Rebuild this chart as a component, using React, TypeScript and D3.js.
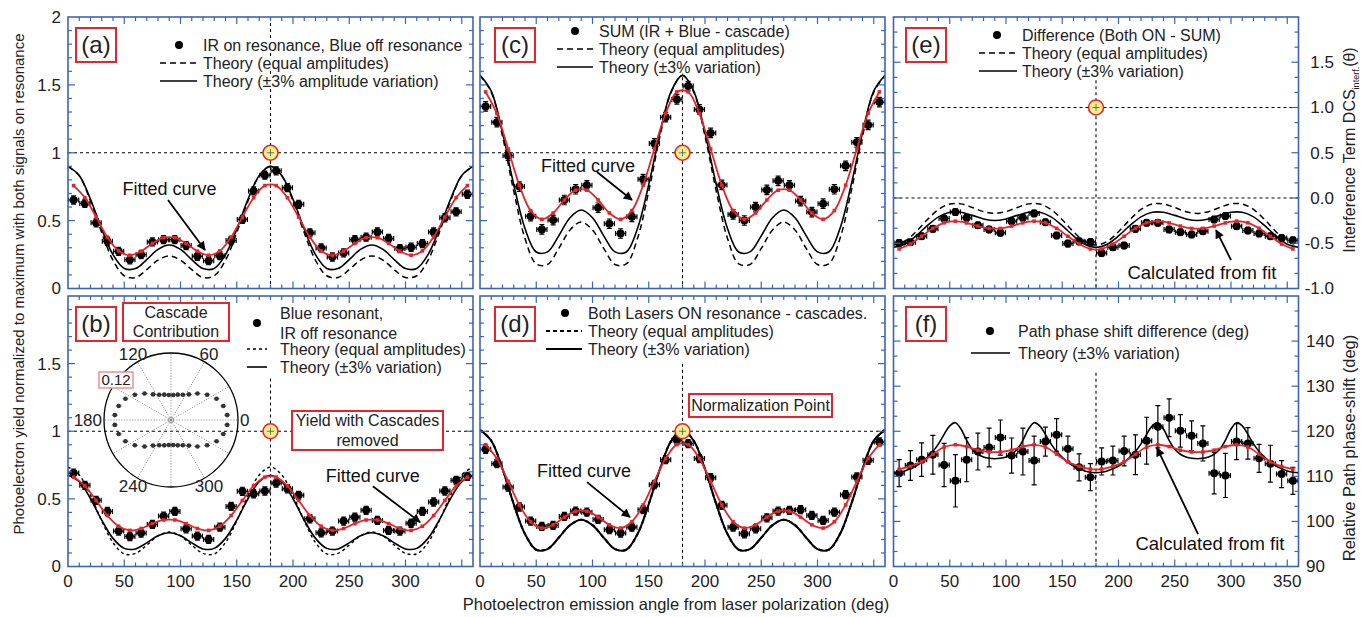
import React from "react";
import * as d3 from "d3";

const FONT = "'Liberation Sans', Arial, Helvetica, sans-serif";
const FRAME = "#3c64b4";
const RED = "#e3262b";
const YELLOW = "#f4ee8c";

// ---------- shared angle grids ----------
const DATA_ANGLES = [5, 15, 25, 35, 45, 55, 65, 75, 85, 95, 105, 115, 125, 135, 145, 155, 165, 175, 185, 195, 205, 215, 225, 235, 245, 255, 265, 275, 285, 295, 305, 315, 325, 335, 345, 355];
const GRID10 = [0, 10, 20, 30, 40, 50, 60, 70, 80, 90, 100, 110, 120, 130, 140, 150, 160, 170, 180, 190, 200, 210, 220, 230, 240, 250, 260, 270, 280, 290, 300, 310, 320, 330, 340, 350, 360];
const GRID5 = [0, 5, 10, 15, 20, 25, 30, 35, 40, 45, 50, 55, 60, 65, 70, 75, 80, 85, 90, 95, 100, 105, 110, 115, 120, 125, 130, 135, 140, 145, 150, 155, 160, 165, 170, 175, 180, 185, 190, 195, 200, 205, 210, 215, 220, 225, 230, 235, 240, 245, 250, 255, 260, 265, 270, 275, 280, 285, 290, 295, 300, 305, 310, 315, 320, 325, 330, 335, 340, 345, 350, 355, 360];

// ---------- panel (a) ----------
const A_DATA = [0.652, 0.627, 0.484, 0.348, 0.274, 0.212, 0.249, 0.343, 0.36, 0.36, 0.316, 0.237, 0.205, 0.242, 0.353, 0.509, 0.719, 0.835, 0.867, 0.743, 0.62, 0.41, 0.299, 0.232, 0.262, 0.36, 0.378, 0.417, 0.368, 0.294, 0.304, 0.331, 0.417, 0.521, 0.565, 0.694];
const A_THEORY_EQ = [0.900, 0.830, 0.644, 0.411, 0.208, 0.094, 0.081, 0.139, 0.209, 0.240, 0.209, 0.139, 0.081, 0.094, 0.208, 0.411, 0.644, 0.830, 0.900, 0.830, 0.644, 0.411, 0.208, 0.094, 0.081, 0.139, 0.209, 0.240, 0.209, 0.139, 0.081, 0.094, 0.208, 0.411, 0.644, 0.830, 0.900];
const A_THEORY_3 = [0.900, 0.833, 0.657, 0.437, 0.249, 0.148, 0.147, 0.213, 0.288, 0.320, 0.288, 0.213, 0.147, 0.148, 0.249, 0.437, 0.657, 0.833, 0.900, 0.833, 0.657, 0.437, 0.249, 0.148, 0.147, 0.213, 0.288, 0.320, 0.288, 0.213, 0.147, 0.148, 0.249, 0.437, 0.657, 0.833, 0.900];
const A_FIT = [0.758, 0.669, 0.526, 0.379, 0.277, 0.245, 0.275, 0.332, 0.374, 0.374, 0.332, 0.275, 0.245, 0.277, 0.379, 0.526, 0.669, 0.758, 0.758, 0.669, 0.526, 0.379, 0.277, 0.245, 0.275, 0.332, 0.374, 0.374, 0.332, 0.275, 0.245, 0.277, 0.379, 0.526, 0.669, 0.758];

// ---------- panel (b) ----------
const B_DATA = [0.691, 0.6, 0.489, 0.407, 0.262, 0.222, 0.247, 0.311, 0.373, 0.407, 0.279, 0.225, 0.2, 0.291, 0.444, 0.556, 0.538, 0.558, 0.617, 0.575, 0.526, 0.353, 0.249, 0.262, 0.336, 0.365, 0.415, 0.341, 0.267, 0.262, 0.32, 0.407, 0.477, 0.558, 0.637, 0.667];
const B_THEORY_EQ = [0.735, 0.677, 0.526, 0.337, 0.177, 0.093, 0.097, 0.158, 0.226, 0.255, 0.226, 0.158, 0.097, 0.093, 0.177, 0.337, 0.526, 0.677, 0.735, 0.677, 0.526, 0.337, 0.177, 0.093, 0.097, 0.158, 0.226, 0.255, 0.226, 0.158, 0.097, 0.093, 0.177, 0.337, 0.526, 0.677, 0.735];
const B_THEORY_3 = [0.675, 0.627, 0.501, 0.343, 0.208, 0.134, 0.130, 0.175, 0.228, 0.250, 0.228, 0.175, 0.130, 0.134, 0.208, 0.343, 0.501, 0.627, 0.675, 0.627, 0.501, 0.343, 0.208, 0.134, 0.130, 0.175, 0.228, 0.250, 0.228, 0.175, 0.130, 0.134, 0.208, 0.343, 0.501, 0.627, 0.675];
const B_FIT = [0.661, 0.596, 0.488, 0.377, 0.298, 0.267, 0.281, 0.317, 0.344, 0.344, 0.317, 0.281, 0.267, 0.298, 0.377, 0.488, 0.596, 0.661, 0.661, 0.596, 0.488, 0.377, 0.298, 0.267, 0.281, 0.317, 0.344, 0.344, 0.317, 0.281, 0.267, 0.298, 0.377, 0.488, 0.596, 0.661];

// ---------- panel (c) ----------
const C_DATA = [1.341, 1.225, 0.978, 0.751, 0.533, 0.435, 0.504, 0.652, 0.731, 0.760, 0.595, 0.477, 0.405, 0.528, 0.805, 1.069, 1.262, 1.393, 1.491, 1.319, 1.146, 0.763, 0.546, 0.501, 0.6, 0.726, 0.793, 0.76, 0.644, 0.563, 0.625, 0.731, 0.904, 1.077, 1.205, 1.373];
const C_THEORY_EQ = [1.570, 1.447, 1.122, 0.717, 0.369, 0.181, 0.177, 0.295, 0.431, 0.490, 0.431, 0.295, 0.177, 0.181, 0.369, 0.717, 1.122, 1.447, 1.570, 1.447, 1.122, 0.717, 0.369, 0.181, 0.177, 0.295, 0.431, 0.490, 0.431, 0.295, 0.177, 0.181, 0.369, 0.717, 1.122, 1.447, 1.570];
const C_THEORY_3 = [1.570, 1.454, 1.148, 0.766, 0.442, 0.269, 0.270, 0.388, 0.521, 0.578, 0.521, 0.388, 0.270, 0.269, 0.442, 0.766, 1.148, 1.454, 1.570, 1.454, 1.148, 0.766, 0.442, 0.269, 0.270, 0.388, 0.521, 0.578, 0.521, 0.388, 0.270, 0.269, 0.442, 0.766, 1.148, 1.454, 1.570];
const C_FIT = [1.448, 1.289, 1.028, 0.761, 0.574, 0.510, 0.556, 0.652, 0.724, 0.724, 0.652, 0.556, 0.510, 0.574, 0.761, 1.028, 1.289, 1.448, 1.448, 1.289, 1.028, 0.761, 0.574, 0.510, 0.556, 0.652, 0.724, 0.724, 0.652, 0.556, 0.510, 0.574, 0.761, 1.028, 1.289, 1.448];

// ---------- panel (d) ----------
const D_DATA = [0.867, 0.76, 0.588, 0.44, 0.336, 0.296, 0.304, 0.37, 0.41, 0.402, 0.348, 0.272, 0.247, 0.291, 0.42, 0.605, 0.79, 0.933, 0.909, 0.798, 0.657, 0.452, 0.291, 0.242, 0.279, 0.36, 0.41, 0.415, 0.42, 0.378, 0.341, 0.402, 0.531, 0.662, 0.785, 0.921];
const D_THEORY_EQ = [1.010, 0.930, 0.721, 0.461, 0.240, 0.124, 0.129, 0.213, 0.306, 0.346, 0.306, 0.213, 0.129, 0.124, 0.240, 0.461, 0.721, 0.930, 1.010, 0.930, 0.721, 0.461, 0.240, 0.124, 0.129, 0.213, 0.306, 0.346, 0.306, 0.213, 0.129, 0.124, 0.240, 0.461, 0.721, 0.930, 1.010];
const D_THEORY_3 = [1.010, 0.930, 0.721, 0.461, 0.240, 0.124, 0.129, 0.213, 0.306, 0.346, 0.306, 0.213, 0.129, 0.124, 0.240, 0.461, 0.721, 0.930, 1.010, 0.930, 0.721, 0.461, 0.240, 0.124, 0.129, 0.213, 0.306, 0.346, 0.306, 0.213, 0.129, 0.124, 0.240, 0.461, 0.721, 0.930, 1.010];
const D_FIT = [0.901, 0.798, 0.630, 0.455, 0.331, 0.284, 0.308, 0.365, 0.409, 0.409, 0.365, 0.308, 0.284, 0.331, 0.455, 0.630, 0.798, 0.901, 0.901, 0.798, 0.630, 0.455, 0.331, 0.284, 0.308, 0.365, 0.409, 0.409, 0.365, 0.308, 0.284, 0.331, 0.455, 0.630, 0.798, 0.901];

// ---------- panel (e) ----------
const E_DATA = [-0.496, -0.489, -0.422, -0.341, -0.226, -0.156, -0.219, -0.3, -0.348, -0.385, -0.256, -0.219, -0.17, -0.267, -0.415, -0.504, -0.478, -0.485, -0.607, -0.544, -0.526, -0.341, -0.274, -0.274, -0.348, -0.378, -0.404, -0.367, -0.237, -0.2, -0.311, -0.359, -0.393, -0.422, -0.441, -0.467];
const E_THEORY_EQ = [-0.520, -0.480, -0.373, -0.240, -0.127, -0.066, -0.065, -0.105, -0.151, -0.170, -0.151, -0.105, -0.065, -0.066, -0.127, -0.240, -0.373, -0.480, -0.520, -0.480, -0.373, -0.240, -0.127, -0.066, -0.065, -0.105, -0.151, -0.170, -0.151, -0.105, -0.065, -0.066, -0.127, -0.240, -0.373, -0.480, -0.520];
const E_THEORY_3 = [-0.544, -0.510, -0.419, -0.306, -0.209, -0.158, -0.158, -0.192, -0.231, -0.248, -0.231, -0.192, -0.158, -0.158, -0.209, -0.306, -0.419, -0.510, -0.544, -0.510, -0.419, -0.306, -0.209, -0.158, -0.158, -0.192, -0.231, -0.248, -0.231, -0.192, -0.158, -0.158, -0.209, -0.306, -0.419, -0.510, -0.544];
const E_FIT = [-0.563, -0.509, -0.423, -0.335, -0.274, -0.256, -0.275, -0.310, -0.336, -0.336, -0.310, -0.275, -0.256, -0.274, -0.335, -0.423, -0.509, -0.563, -0.563, -0.509, -0.423, -0.335, -0.274, -0.256, -0.275, -0.310, -0.336, -0.336, -0.310, -0.275, -0.256, -0.274, -0.335, -0.423, -0.509, -0.563];

// ---------- panel (f) ----------
const F_DATA = [110.7, 112.4, 113.7, 114.8, 112.5, 109.0, 113.7, 115.5, 116.4, 118.6, 114.6, 115.5, 113.5, 117.7, 119.2, 116.1, 112.0, 109.8, 113.3, 113.5, 115.6, 114.8, 117.9, 121.0, 123.0, 120.1, 119.0, 117.3, 110.7, 110.2, 117.7, 117.3, 114.0, 112.8, 110.5, 109.0];
const F_ERR = [3.0, 3.3, 3.7, 4.3, 4.8, 5.8, 4.9, 4.1, 4.3, 3.9, 3.9, 5.2, 5.4, 3.2, 3.6, 2.8, 3.0, 3.0, 3.0, 3.2, 3.3, 4.4, 5.2, 4.7, 4.2, 3.6, 3.3, 3.9, 4.6, 4.9, 4.0, 3.5, 3.1, 4.1, 3.0, 3.0];
const F_THEORY_3 = [110.8, 110.9, 111.2, 111.7, 112.3, 113.1, 114.2, 115.5, 117.2, 119.3, 121.2, 121.9, 120.5, 118.0, 116.0, 114.9, 114.3, 114.0, 113.9,
  114.0, 114.3, 114.9, 116.0, 118.0, 120.5, 121.9, 121.2, 119.3, 117.2, 115.5, 114.2, 113.1, 112.3, 111.7, 111.2, 110.9, 110.8,
  110.9, 111.2, 111.7, 112.3, 113.1, 114.2, 115.5, 117.2, 119.3, 121.2, 121.9, 120.5, 118.0, 116.0, 114.9, 114.3, 114.0, 113.9,
  114.0, 114.3, 114.9, 116.0, 118.0, 120.5, 121.9, 121.2, 119.3, 117.2, 115.5, 114.2, 113.1, 112.3, 111.7, 111.2, 110.9, 110.8];
const F_FIT = [111.6, 112.2, 113.2, 114.9, 116.5, 117.0, 116.6, 115.8, 115.4, 115.4, 115.8, 116.6, 117.0, 116.5, 114.9, 113.2, 112.2, 111.6, 111.6, 112.2, 113.2, 114.9, 116.5, 117.0, 116.6, 115.8, 115.4, 115.4, 115.8, 116.6, 117.0, 116.5, 114.9, 113.2, 112.2, 111.6];

// ---------- polar inset (cascade contribution) ----------
const POLAR_R = [0.101, 0.097, 0.090, 0.079, 0.067, 0.056, 0.050, 0.047, 0.045, 0.045, 0.047, 0.050, 0.056, 0.067, 0.079, 0.090, 0.097, 0.101, 0.101, 0.097, 0.090, 0.079, 0.067, 0.056, 0.050, 0.047, 0.045, 0.045, 0.047, 0.050, 0.056, 0.067, 0.079, 0.090, 0.097, 0.101];
const POLAR_SPOKES = [0, 30, 60, 90, 120, 150, 180, 210, 240, 270, 300, 330];
const POLAR_LABELS = [0, 60, 120, 180, 240, 300];

// ---------- tick labels ----------
const Y_TICKS_TOP = [0, 0.5, 1, 1.5, 2];
const Y_LABELS_TOP = ["0", "0.5", "1", "1.5", "2"];
const Y_TICKS_BOT = [0, 0.5, 1, 1.5];
const Y_LABELS_BOT = ["0", "0.5", "1", "1.5"];
const E_TICKS = [-1, -0.5, 0, 0.5, 1, 1.5];
const E_LABELS = ["-1.0", "-0.5", "0.0", "0.5", "1.0", "1.5"];
const F_TICKS = [90, 100, 110, 120, 130, 140];
const F_LABELS = ["90", "100", "110", "120", "130", "140"];
const X_TICKS_BD = [0, 50, 100, 150, 200, 250, 300];
const X_TICKS_F = [0, 50, 100, 150, 200, 250, 300, 350];

type Row = { kind: "dot" | "dash" | "solid" | "text"; y: number; label?: string };
type Legend = { dotX: number; lx1: number; lx2: number; tx: number; rows: Row[] };
type Annot = { text: string; size: number; tx: number; ty: number; from: [number, number]; to: [number, number] };
type TickSet = { values: number[]; labels: string[] };
type PanelCfg = {
  id: string; x0: number; x1: number; y0: number; y1: number;
  yDomain: [number, number]; yMajor: number; ySub: number;
  data: number[]; yErr: number | number[];
  theoryGrid: number[]; theoryEq?: number[]; theory3: number[];
  fit: number[];
  hLines: number[]; vTop: number; norm: boolean;
  dash: string; dashW: number; lw: number;
  label: string; labelX: number; labelY: number;
  legend: Legend;
  left?: TickSet; right?: TickSet & { anchor: "start" | "end"; x: number }; bottom?: TickSet;
  annot: Annot;
};

const PANELS: PanelCfg[] = [
  {
    id: "a", x0: 68, x1: 473, y0: 17, y1: 288.5, yDomain: [0, 2], yMajor: 0.5, ySub: 5,
    data: A_DATA, yErr: 0.03, theoryGrid: GRID10, theoryEq: A_THEORY_EQ, theory3: A_THEORY_3, fit: A_FIT,
    hLines: [1], vTop: 2, norm: true, dash: "6,4", dashW: 1.5, lw: 1.6,
    label: "(a)", labelX: 76, labelY: 28,
    legend: { dotX: 179, lx1: 160, lx2: 197, tx: 203, rows: [
      { kind: "dot", y: 45, label: "IR on resonance, Blue off resonance" },
      { kind: "dash", y: 63, label: "Theory (equal amplitudes)" },
      { kind: "solid", y: 81, label: "Theory (\u00b13% amplitude variation)" }] },
    left: { values: Y_TICKS_TOP, labels: Y_LABELS_TOP },
    annot: { text: "Fitted curve", size: 18, tx: 90.2, ty: 0.733, from: [88.9, 0.652], to: [121.8, 0.284] },
  },
  {
    id: "b", x0: 68, x1: 473, y0: 296, y1: 566.5, yDomain: [0, 2], yMajor: 0.5, ySub: 5,
    data: B_DATA, yErr: 0.03, theoryGrid: GRID10, theoryEq: B_THEORY_EQ, theory3: B_THEORY_3, fit: B_FIT,
    hLines: [1], vTop: 1.39, norm: true, dash: "3,3", dashW: 1.4, lw: 1.6,
    label: "(b)", labelX: 76, labelY: 307,
    legend: { dotX: 257, lx1: 247, lx2: 267, tx: 280, rows: [
      { kind: "dot", y: 323 },
      { kind: "text", y: 313, label: "Blue resonant," },
      { kind: "text", y: 333, label: "IR off resonance" },
      { kind: "dash", y: 349, label: "Theory (equal amplitudes)" },
      { kind: "solid", y: 367, label: "Theory (\u00b13% variation)" }] },
    left: { values: Y_TICKS_BOT, labels: Y_LABELS_BOT },
    bottom: { values: X_TICKS_BD, labels: X_TICKS_BD.map(String) },
    annot: { text: "Fitted curve", size: 18, tx: 271, ty: 0.668, from: [271, 0.594], to: [312.9, 0.328] },
  },
  {
    id: "c", x0: 480, x1: 885, y0: 17, y1: 288.5, yDomain: [0, 2], yMajor: 0.5, ySub: 5,
    data: C_DATA, yErr: 0.035, theoryGrid: GRID10, theoryEq: C_THEORY_EQ, theory3: C_THEORY_3, fit: C_FIT,
    hLines: [1], vTop: 1.6, norm: true, dash: "6,4", dashW: 1.5, lw: 1.6,
    label: "(c)", labelX: 495, labelY: 28,
    legend: { dotX: 575, lx1: 557, lx2: 593, tx: 599, rows: [
      { kind: "dot", y: 31, label: "SUM (IR + Blue - cascade)" },
      { kind: "dash", y: 49, label: "Theory (equal amplitudes)" },
      { kind: "solid", y: 67, label: "Theory (\u00b13% variation)" }] },
    annot: { text: "Fitted curve", size: 18, tx: 96, ty: 0.902, from: [104, 0.858], to: [135.1, 0.652] },
  },
  {
    id: "d", x0: 480, x1: 885, y0: 296, y1: 566.5, yDomain: [0, 2], yMajor: 0.5, ySub: 5,
    data: D_DATA, yErr: 0.03, theoryGrid: GRID10, theoryEq: D_THEORY_EQ, theory3: D_THEORY_3, fit: D_FIT,
    hLines: [1], vTop: 1.5, norm: true, dash: "4,3", dashW: 2, lw: 2,
    label: "(d)", labelX: 495, labelY: 307,
    legend: { dotX: 565, lx1: 546, lx2: 582, tx: 588, rows: [
      { kind: "dot", y: 313, label: "Both Lasers ON resonance - cascades." },
      { kind: "dash", y: 331, label: "Theory (equal amplitudes)" },
      { kind: "solid", y: 349, label: "Theory (\u00b13% variation)" }] },
    bottom: { values: X_TICKS_BD, labels: X_TICKS_BD.map(String) },
    annot: { text: "Fitted curve", size: 18, tx: 92.4, ty: 0.705, from: [95.1, 0.624], to: [133.3, 0.365] },
  },
  {
    id: "e", x0: 893.5, x1: 1298.5, y0: 17, y1: 288.5, yDomain: [-1, 2], yMajor: 0.5, ySub: 3,
    data: E_DATA, yErr: 0.035, theoryGrid: GRID10, theoryEq: E_THEORY_EQ, theory3: E_THEORY_3, fit: E_FIT,
    hLines: [1, 0], vTop: 1.3, norm: true, dash: "6,4", dashW: 1.5, lw: 1.6,
    label: "(e)", labelX: 906, labelY: 28,
    legend: { dotX: 997, lx1: 979, lx2: 1017, tx: 1022, rows: [
      { kind: "dot", y: 35, label: "Difference (Both ON - SUM)" },
      { kind: "dash", y: 53, label: "Theory (equal amplitudes)" },
      { kind: "solid", y: 71, label: "Theory (\u00b13% variation)" }] },
    right: { values: E_TICKS, labels: E_LABELS, anchor: "end", x: 1334 },
    annot: { text: "Calculated from fit", size: 18.5, tx: 274.2, ty: -0.829, from: [300, -0.685], to: [286.7, -0.354] },
  },
  {
    id: "f", x0: 893.5, x1: 1298.5, y0: 296, y1: 566.5, yDomain: [90, 150], yMajor: 10, ySub: 3,
    data: F_DATA, yErr: F_ERR, theoryGrid: GRID5, theory3: F_THEORY_3, fit: F_FIT,
    hLines: [], vTop: 133, norm: false, dash: "6,4", dashW: 1.5, lw: 1.6,
    label: "(f)", labelX: 906, labelY: 307,
    legend: { dotX: 990, lx1: 971, lx2: 1010, tx: 1018, rows: [
      { kind: "dot", y: 331, label: "Path phase shift difference (deg)" },
      { kind: "solid", y: 353, label: "Theory (\u00b13% variation)" }] },
    right: { values: F_TICKS, labels: F_LABELS, anchor: "start", x: 1306 },
    bottom: { values: X_TICKS_F, labels: X_TICKS_F.map(String) },
    annot: { text: "Calculated from fit", size: 18.5, tx: 281.3, ty: 95.2, from: [270.7, 97.2], to: [234.2, 116.3] },
  },
];

const X_ERR = 4.5;

function Panel({ c }: { c: PanelCfg }) {
  const xs = d3.scaleLinear().domain([0, 360]).range([c.x0, c.x1]);
  const ys = d3.scaleLinear().domain(c.yDomain).range([c.y1, c.y0]);
  const line = d3.line<[number, number]>().x((d) => xs(d[0])).y((d) => ys(d[1])).curve(d3.curveCatmullRom.alpha(0.5));
  const pts = (grid: number[], vals: number[]) => grid.map((g, i) => [g, vals[i]] as [number, number]);
  const err = (i: number) => (typeof c.yErr === "number" ? c.yErr : c.yErr[i]);
  const xTicks = d3.range(10, 360, 10);
  const yStep = c.yMajor / c.ySub;
  const nY = Math.round((c.yDomain[1] - c.yDomain[0]) / yStep);
  const yTicks = d3.range(1, nY).map((k) => c.yDomain[0] + k * yStep);
  const isMajorY = (v: number) => Math.abs(v / c.yMajor - Math.round(v / c.yMajor)) < 1e-6;
  const clipId = `clip-${c.id}`;
  const lg = c.legend;
  const halo = { stroke: "#fff", strokeWidth: 4, paintOrder: "stroke" as const, strokeLinejoin: "round" as const };
  return (
    <g>
      <defs>
        <clipPath id={clipId}>
          <rect x={c.x0} y={c.y0} width={c.x1 - c.x0} height={c.y1 - c.y0} />
        </clipPath>
      </defs>
      <g clipPath={`url(#${clipId})`}>
        {c.hLines.map((h) => (
          <line key={h} x1={c.x0} x2={c.x1} y1={ys(h)} y2={ys(h)} stroke="#000" strokeWidth={1.1} strokeDasharray="3,3" />
        ))}
        <line x1={xs(180)} x2={xs(180)} y1={ys(c.vTop)} y2={c.y1} stroke="#000" strokeWidth={1.1} strokeDasharray="3,3" />
        {c.theoryEq && (
          <path d={line(pts(c.theoryGrid, c.theoryEq)) || ""} fill="none" stroke="#000" strokeWidth={c.dashW} strokeDasharray={c.dash} />
        )}
        <path d={line(pts(c.theoryGrid, c.theory3)) || ""} fill="none" stroke="#000" strokeWidth={c.lw} />
        {c.data.map((v, i) => {
          const x = xs(DATA_ANGLES[i]);
          const y = ys(v);
          const yt = ys(v + err(i));
          const yb = ys(v - err(i));
          const xl = xs(DATA_ANGLES[i] - X_ERR);
          const xr = xs(DATA_ANGLES[i] + X_ERR);
          return (
            <g key={i} stroke="#000" strokeWidth={1.2}>
              <line x1={x} x2={x} y1={yt} y2={yb} />
              <line x1={x - 2.5} x2={x + 2.5} y1={yt} y2={yt} />
              <line x1={x - 2.5} x2={x + 2.5} y1={yb} y2={yb} />
              <line x1={xl} x2={xr} y1={y} y2={y} />
              <line x1={xl} x2={xl} y1={y - 2.5} y2={y + 2.5} />
              <line x1={xr} x2={xr} y1={y - 2.5} y2={y + 2.5} />
              <circle cx={x} cy={y} r={4} fill="#000" stroke="none" />
            </g>
          );
        })}
        <path d={line(pts(DATA_ANGLES, c.fit)) || ""} fill="none" stroke={RED} strokeWidth={1.8} />
        {c.fit.map((v, i) => (
          <rect key={i} x={xs(DATA_ANGLES[i]) - 1.8} y={ys(v) - 1.8} width={3.6} height={3.6} fill={RED} />
        ))}
        {c.norm && (
          <g>
            <circle cx={xs(180)} cy={ys(1)} r={7.5} fill={YELLOW} stroke={RED} strokeWidth={1.6} />
            <line x1={xs(180) - 3.5} x2={xs(180) + 3.5} y1={ys(1)} y2={ys(1)} stroke="#555" strokeWidth={0.8} />
            <line x1={xs(180)} x2={xs(180)} y1={ys(1) - 3.5} y2={ys(1) + 3.5} stroke="#555" strokeWidth={0.8} />
          </g>
        )}
      </g>

      {/* frame and ticks */}
      <rect x={c.x0} y={c.y0} width={c.x1 - c.x0} height={c.y1 - c.y0} fill="none" stroke={FRAME} strokeWidth={1.6} />
      <g stroke={FRAME} strokeWidth={1.2}>
        {xTicks.map((t) => {
          const L = t % 50 === 0 ? 7 : 4;
          return (
            <g key={t}>
              <line x1={xs(t)} x2={xs(t)} y1={c.y0} y2={c.y0 + L} />
              <line x1={xs(t)} x2={xs(t)} y1={c.y1} y2={c.y1 - L} />
            </g>
          );
        })}
        {yTicks.map((t, i) => {
          const L = isMajorY(t) ? 7 : 4;
          return (
            <g key={i}>
              <line x1={c.x0} x2={c.x0 + L} y1={ys(t)} y2={ys(t)} />
              <line x1={c.x1} x2={c.x1 - L} y1={ys(t)} y2={ys(t)} />
            </g>
          );
        })}
      </g>

      {/* tick labels */}
      {c.left &&
        c.left.values.map((v, i) => (
          <text key={i} x={61} y={ys(v)} dy="0.35em" textAnchor="end" fontSize={17} fill="#222">
            {c.left!.labels[i]}
          </text>
        ))}
      {c.right &&
        c.right.values.map((v, i) => (
          <text key={i} x={c.right!.x} y={ys(v)} dy="0.35em" textAnchor={c.right!.anchor} fontSize={17} fill="#222">
            {c.right!.labels[i]}
          </text>
        ))}
      {c.bottom &&
        c.bottom.values.map((v, i) => (
          <text key={i} x={xs(v)} y={587} textAnchor="middle" fontSize={17} fill="#222">
            {c.bottom!.labels[i]}
          </text>
        ))}

      {/* panel label */}
      <rect x={c.labelX} y={c.labelY} width={40} height={34} fill="#fff" stroke={RED} strokeWidth={2} />
      <text x={c.labelX + 20} y={c.labelY + 17} dy="0.35em" textAnchor="middle" fontSize={24} fill="#222">
        {c.label}
      </text>

      {/* legend */}
      {lg.rows.map((r, i) => (
        <g key={i}>
          {r.kind === "dot" && <circle cx={lg.dotX} cy={r.y} r={4} fill="#000" />}
          {r.kind === "dash" && (
            <line x1={lg.lx1} x2={lg.lx2} y1={r.y} y2={r.y} stroke="#000" strokeWidth={c.dashW} strokeDasharray={c.dash} />
          )}
          {r.kind === "solid" && <line x1={lg.lx1} x2={lg.lx2} y1={r.y} y2={r.y} stroke="#000" strokeWidth={c.lw} />}
          {r.label && (
            <text x={lg.tx} y={r.y} dy="0.35em" fontSize={16} fill="#222" {...halo}>
              {r.label}
            </text>
          )}
        </g>
      ))}

      {/* annotation */}
      <line
        x1={xs(c.annot.from[0])}
        y1={ys(c.annot.from[1])}
        x2={xs(c.annot.to[0])}
        y2={ys(c.annot.to[1])}
        stroke="#000"
        strokeWidth={1.8}
        markerEnd="url(#arrowhead)"
      />
      <text x={xs(c.annot.tx)} y={ys(c.annot.ty)} dy="0.35em" textAnchor="middle" fontSize={c.annot.size} fill="#111">
        {c.annot.text}
      </text>
    </g>
  );
}

function PolarInset() {
  const cx = 171;
  const cy = 420;
  const R = 67;
  const rs = d3.scaleLinear().domain([0, 0.12]).range([0, R]);
  const rad = (a: number) => (a * Math.PI) / 180;
  return (
    <g>
      <circle cx={cx} cy={cy} r={R} fill="none" stroke="#000" strokeWidth={1.3} />
      {POLAR_SPOKES.map((a) => (
        <line
          key={a}
          x1={cx}
          y1={cy}
          x2={cx + R * Math.cos(rad(a))}
          y2={cy - R * Math.sin(rad(a))}
          stroke="#777"
          strokeWidth={0.8}
          strokeDasharray="1.2,1.5"
        />
      ))}
      <circle cx={cx} cy={cy} r={2.5} fill="none" stroke="#777" strokeWidth={0.8} />
      {POLAR_R.map((r, i) => {
        const a = rad(DATA_ANGLES[i]);
        const x = cx + rs(r) * Math.cos(a);
        const y = cy - rs(r) * Math.sin(a);
        return (
          <g key={i}>
            <line x1={x - 3} x2={x + 3} y1={y} y2={y} stroke="#444" strokeWidth={0.8} />
            <circle cx={x} cy={y} r={2.3} fill="#333" />
          </g>
        );
      })}
      {POLAR_LABELS.map((a) => {
        if (a === 0)
          return (
            <text key={a} x={cx + R + 2} y={cy} dy="0.35em" fontSize={17} fill="#222">
              {a}
            </text>
          );
        if (a === 180)
          return (
            <text key={a} x={cx - R - 2} y={cy} dy="0.35em" textAnchor="end" fontSize={17} fill="#222">
              {a}
            </text>
          );
        return (
          <text
            key={a}
            x={cx + 76 * Math.cos(rad(a))}
            y={cy - 76 * Math.sin(rad(a))}
            dy="0.35em"
            textAnchor="middle"
            fontSize={17}
            fill="#222"
          >
            {a}
          </text>
        );
      })}
      <rect x={99} y={372} width={34} height={16} fill="#fff" stroke="#e88" strokeWidth={1.4} />
      <text x={116} y={380} dy="0.35em" textAnchor="middle" fontSize={15} fill="#222">
        0.12
      </text>
    </g>
  );
}

function Box({ x, y, w, h, lines, size }: { x: number; y: number; w: number; h: number; lines: string[]; size: number }) {
  const step = h / lines.length;
  return (
    <g>
      <rect x={x} y={y} width={w} height={h} fill="#fff" stroke={RED} strokeWidth={2} />
      {lines.map((l, i) => (
        <text key={i} x={x + w / 2} y={y + step * (i + 0.5)} dy="0.35em" textAnchor="middle" fontSize={size} fill="#222">
          {l}
        </text>
      ))}
    </g>
  );
}

export default function App() {
  return (
    <svg
      width={1372}
      height={617}
      style={{ position: "absolute", left: 0, top: 0, background: "#fff" }}
      fontFamily={FONT}
    >
      <defs>
        <marker id="arrowhead" viewBox="0 0 10 10" refX="9" refY="5" markerWidth="11" markerHeight="9" markerUnits="userSpaceOnUse" orient="auto">
          <path d="M0,0 L10,5 L0,10 z" fill="#000" />
        </marker>
      </defs>
      <rect x={0} y={0} width={1372} height={617} fill="#fff" />
      {PANELS.map((p) => (
        <Panel key={p.id} c={p} />
      ))}
      <PolarInset />
      <Box x={123} y={303} w={106} h={38} lines={["Cascade", "Contribution"]} size={16} />
      <Box x={292} y={411} w={151} h={39} lines={["Yield with Cascades", "removed"]} size={16} />
      <Box x={689} y={394} w={143} h={23} lines={["Normalization Point"]} size={16} />

      <text x={676} y={610} textAnchor="middle" fontSize={16.5} fill="#222">
        Photoelectron emission angle from laser polarization (deg)
      </text>
      <text transform="translate(19,284) rotate(-90)" dy="0.35em" textAnchor="middle" fontSize={15} fill="#222">
        Photoelectron yield normalized to maximum with both signals on resonance
      </text>
      <text transform="translate(1349,150) rotate(-90)" dy="0.35em" textAnchor="middle" fontSize={16} fill="#222">
        Interference Term DCS
        <tspan fontSize={9} dy={4}>
          interf.
        </tspan>
        <tspan dy={-4}>(θ)</tspan>
      </text>
      <text transform="translate(1349,448) rotate(-90)" dy="0.35em" textAnchor="middle" fontSize={16.5} fill="#222">
        Relative Path phase-shift (deg)
      </text>
    </svg>
  );
}
